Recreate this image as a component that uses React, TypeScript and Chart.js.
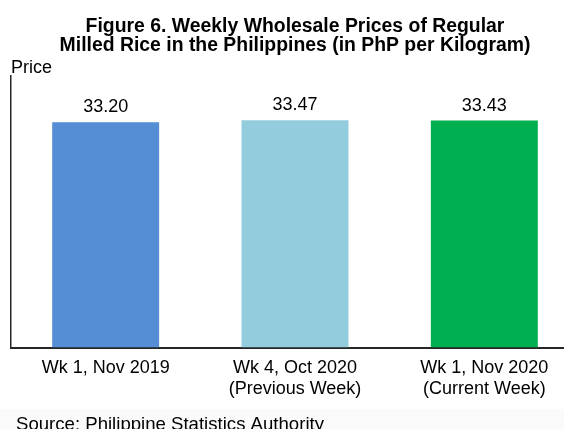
import React, { useEffect, useRef } from "react";
import { Chart, registerables } from "chart.js";

Chart.register(...registerables);

const titleLines = [
  "Figure 6. Weekly Wholesale Prices of Regular",
  "Milled Rice in the Philippines (in PhP per Kilogram)",
];
const yAxisLabel = "Price";
const sourceText = "Source: Philippine Statistics Authority";
const categories = [
  ["Wk 1, Nov 2019"],
  ["Wk 4, Oct 2020", "(Previous Week)"],
  ["Wk 1, Nov 2020", "(Current Week)"],
];
const prices = [33.2, 33.47, 33.43];
const barColors = ["#558ed5", "#93cddd", "#00b050"];
const yMin = 0;
const yMax = 40;

const FONT = "'Liberation Sans', Arial, Helvetica, sans-serif";

const textPlugin = {
  id: "customText",
  beforeDraw(chart: any) {
    const ctx = chart.ctx;
    ctx.save();
    ctx.fillStyle = "#fafafa";
    ctx.fillRect(0, 409, chart.width, chart.height - 409);
    ctx.restore();
  },
  afterDraw(chart: any) {
    const ctx = chart.ctx;
    const area = chart.chartArea;
    ctx.save();
    ctx.fillStyle = "#000";
    ctx.textBaseline = "alphabetic";
    // title
    ctx.font = `bold 19.4px ${FONT}`;
    ctx.textAlign = "center";
    const cx = (area.left + area.right) / 2;
    ctx.fillText(titleLines[0], cx, 31.5);
    ctx.fillText(titleLines[1], cx, 50.5);
    // axis label
    ctx.font = `18px ${FONT}`;
    ctx.textAlign = "left";
    ctx.fillText(yAxisLabel, 11, 72.5);
    // data labels
    ctx.textAlign = "center";
    const meta = chart.getDatasetMeta(0);
    meta.data.forEach((bar: any, i: number) => {
      ctx.fillText(prices[i].toFixed(2), bar.x, bar.y - 10);
    });
    // source
    ctx.font = `18.6px ${FONT}`;
    ctx.textAlign = "left";
    ctx.fillText(sourceText, 16, 430);
    ctx.restore();
  },
};

export default function App() {
  const ref = useRef<HTMLCanvasElement>(null);
  useEffect(() => {
    if (!ref.current) return;
    const chart = new Chart(ref.current, {
      type: "bar",
      data: {
        labels: categories,
        datasets: [
          {
            data: prices,
            backgroundColor: barColors,
            borderWidth: 0,
            categoryPercentage: 1,
            barPercentage: 0.565,
          },
        ],
      },
      options: {
        animation: false,
        responsive: false,
        devicePixelRatio: 1,
        layout: { padding: { left: 11, right: 11, top: 76, bottom: 31 } },
        plugins: {
          legend: { display: false },
          title: { display: false },
          tooltip: { enabled: false },
        },
        scales: {
          x: {
            grid: { display: false, drawTicks: false },
            border: { display: true, color: "#262626", width: 2 },
            ticks: {
              color: "#000",
              padding: 10,
              font: { family: FONT, size: 18, lineHeight: 1.15 },
            },
          },
          y: {
            min: yMin,
            max: yMax,
            grid: { display: false, drawTicks: false },
            border: { display: true, color: "#262626", width: 1.5 },
            ticks: { display: false },
          },
        },
      },
      plugins: [textPlugin],
    });
    return () => chart.destroy();
  }, []);
  return (
    <div
      style={{
        position: "fixed",
        left: 0,
        top: 0,
        width: 564,
        height: 429,
        overflow: "hidden",
        background: "#fff",
      }}
    >
      <canvas
        ref={ref}
        width={590}
        height={440}
        style={{ width: 590, height: 440, display: "block" }}
      />
    </div>
  );
}
